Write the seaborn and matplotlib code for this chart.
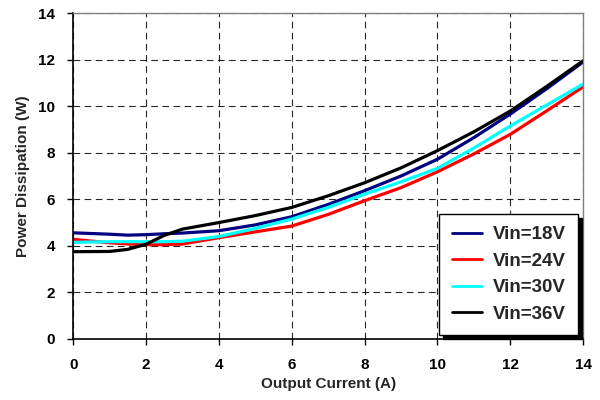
import pandas as pd
import seaborn as sns
import matplotlib.pyplot as plt

# Data
current = [0, 1, 1.5, 2, 2.5, 3, 4, 5, 6, 7, 8, 9, 10, 11, 12, 13, 14]
vin18 = [4.56, 4.50, 4.46, 4.48, 4.52, 4.55, 4.65, 4.90, 5.25, 5.78, 6.37, 7.00, 7.72, 8.65, 9.66, 10.75, 11.90]
vin24 = [4.28, 4.13, 4.08, 4.05, 4.05, 4.08, 4.35, 4.60, 4.85, 5.35, 5.94, 6.50, 7.18, 7.95, 8.79, 9.80, 10.83]
vin30 = [4.15, 4.18, 4.18, 4.18, 4.18, 4.20, 4.40, 4.75, 5.15, 5.65, 6.22, 6.75, 7.33, 8.20, 9.15, 10.05, 10.95]
vin36 = [3.75, 3.76, 3.85, 4.07, 4.45, 4.72, 5.00, 5.30, 5.65, 6.15, 6.71, 7.35, 8.09, 8.90, 9.79, 10.85, 11.95]

labels = ["Vin=18V", "Vin=24V", "Vin=30V", "Vin=36V"]
colors = ["#000080", "#ff0000", "#00ffff", "#000000"]

df = pd.concat([
    pd.DataFrame({"current": current, "power": vals, "series": lab})
    for lab, vals in zip(labels, [vin18, vin24, vin30, vin36])
])

sns.set_style("white")
plt.rcParams["font.family"] = ["Liberation Sans", "DejaVu Sans"]
plt.rcParams["font.weight"] = "bold"

fig = plt.figure(figsize=(6, 4), dpi=100)
ax = fig.add_axes([0.122, 0.1525, 0.85, 0.815])

sns.lineplot(data=df, x="current", y="power", hue="series",
             palette=colors, linewidth=2.3, ax=ax)

ax.set_xlim(0, 14)
ax.set_ylim(0, 14)
ax.set_xticks(range(0, 15, 2))
ax.set_yticks(range(0, 15, 2))
ax.grid(True, color="black", linestyle=(0, (6, 4)), linewidth=0.8, alpha=0.85)

for s in ["left", "bottom"]:
    ax.spines[s].set_color("black")
    ax.spines[s].set_linewidth(1.2)
for s in ["top", "right"]:
    ax.spines[s].set_color("#808080")
    ax.spines[s].set_linewidth(1.0)

ax.tick_params(axis="both", direction="out", length=4, width=1, colors="black",
               labelsize=11, left=True, bottom=True)
ax.tick_params(axis="x", pad=10)
ax.tick_params(axis="y", pad=9)
for lab in ax.get_xticklabels() + ax.get_yticklabels():
    lab.set_fontweight("bold")

ax.set_xlabel("Output Current (A)", fontsize=11, fontweight="bold", labelpad=3)
ax.set_ylabel("Power Dissipation (W)", fontsize=11, fontweight="bold", labelpad=6)

handles, _ = ax.get_legend_handles_labels()
leg = ax.legend(handles, labels, loc="lower right", bbox_to_anchor=(0.99, 0.012),
                borderaxespad=0, frameon=True, fancybox=False, edgecolor="black",
                shadow={"color": "black", "alpha": 1, "ox": 2.5, "oy": -2.5},
                prop={"size": 13.5, "weight": "bold"}, handlelength=1.6,
                labelspacing=0.5, borderpad=0.65, handletextpad=0.6)
leg.get_frame().set_linewidth(1.0)
for line in leg.get_lines():
    line.set_linewidth(2)

fig.savefig("out.png", dpi=100)
